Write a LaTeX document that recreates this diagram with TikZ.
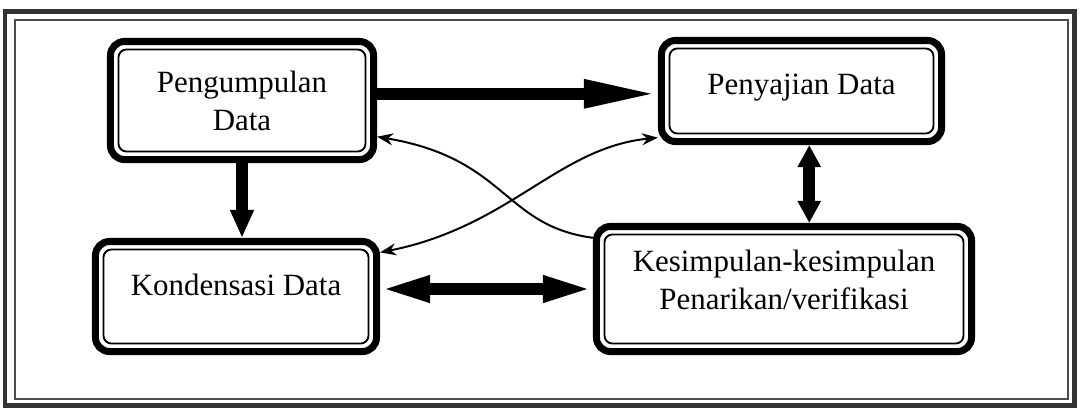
\documentclass[tikz,border=0pt]{standalone}
\usepackage{fontspec}
\setmainfont{Liberation Serif}
\usetikzlibrary{arrows.meta,calc}

\begin{document}
\begin{tikzpicture}[x=0.025cm,y=-0.025cm]
    % Stili
    \tikzset{box/.style={draw, line width=5pt, rounded corners=0.35cm, align=center, font=\fontsize{22}{27}\selectfont}}
    \tikzstyle{fatarrow}=[line width=0.29cm]
    \tikzstyle{link}=[line width=1.4pt]

    % Cornice
    \useasboundingbox (0,0) rectangle (1080,409);
    \draw[black!80, line width=3.5pt] (5,11.5) rectangle (1074.5,405.5);
    \draw[black!70, line width=0.8pt] (15,20) rectangle (1068,399);

    % Blocchi
    \node[box, minimum width=6.575cm, minimum height=2.95cm] (pengumpulan) at (242,100.5) {Pengumpulan\\Data};
    \node[box, minimum width=7cm, minimum height=2.525cm, text depth=0.35cm] (penyajian) at (801.5,91) {Penyajian Data};
    \node[box, minimum width=7.025cm, minimum height=2.75cm, text depth=0.6cm] (kondensasi) at (236,296.5) {Kondensasi Data};
    \node[box, minimum width=9.375cm, minimum height=3.125cm, text depth=0.45cm] (kesimpulan) at (784,289) {Kesimpulan-kesimpulan\\Penarikan/verifikasi};

    % Bordo interno
    \foreach \n in {pengumpulan,penyajian,kondensasi,kesimpulan}
        \draw[line width=1.3pt, rounded corners=0.2cm] ($(\n.north west)+(11.5,11.5)$) rectangle ($(\n.south east)+(-11.5,-11.5)$);

    % Frecce spesse
    \draw[fatarrow, -{Triangle[length=1.85cm, width=0.65cm]}] ([yshift=-2pt]pengumpulan.east |- penyajian.west) -- ([yshift=-2pt]penyajian.west);
    \draw[fatarrow, -{Triangle[length=0.7cm, width=0.55cm]}] (pengumpulan.south) -- (pengumpulan.south |- kondensasi.north);
    \draw[fatarrow, {Triangle[length=0.55cm, width=0.55cm]}-{Triangle[length=0.55cm, width=0.55cm]}] ([xshift=5.5pt]penyajian.south) -- ([xshift=5.5pt]penyajian.south |- kesimpulan.north);
    \draw[fatarrow, {Triangle[length=1.25cm, width=0.6cm]}-{Triangle[length=1.25cm, width=0.6cm]}] (kondensasi.east |- kesimpulan.west) -- (kesimpulan.west);

    % Frecce curve
    \draw[link, -{Stealth[length=0.4cm, width=0.3cm]}] (kesimpulan.165) .. controls +(-90,-12) and +(130,22) .. (pengumpulan.-15);
    \draw[link, {Stealth[length=0.4cm, width=0.3cm]}-{Stealth[length=0.4cm, width=0.3cm]}] (kondensasi.17) .. controls +(130,-26) and +(-100,10) .. (penyajian.198);
\end{tikzpicture}
\end{document}
